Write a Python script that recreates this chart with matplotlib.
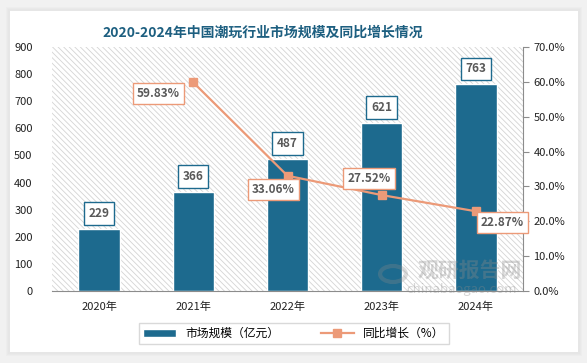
import matplotlib
matplotlib.use("Agg")
import matplotlib.pyplot as plt
from matplotlib.patches import Rectangle
from matplotlib.lines import Line2D
import numpy as np

plt.rcParams['font.family'] = ['Noto Sans CJK SC', 'DejaVu Sans']
plt.rcParams['hatch.linewidth'] = 0.6

years = ["2020年", "2021年", "2022年", "2023年", "2024年"]
market_size = [229, 366, 487, 621, 763]
growth_years = [1, 2, 3, 4]
growth_rate = [59.83, 33.06, 27.52, 22.87]

bar_color = "#1d6a8e"
line_color = "#ec9a78"
text_color = "#595959"

fig = plt.figure(figsize=(5.87, 3.63), dpi=100, facecolor="#f1f1f1")

# card with a soft shadow
for i, a in enumerate([0.05, 0.05, 0.05]):
    fig.patches.append(Rectangle((8 / 587 - i * 0.002, 9 / 363 - i * 0.003),
                                 572 / 587 + i * 0.004, 345 / 363 + i * 0.006,
                                 transform=fig.transFigure, facecolor="#b0b0b0",
                                 alpha=a, lw=0, zorder=-3))
fig.patches.append(Rectangle((10 / 587, 11 / 363), 568 / 587, 341 / 363,
                             transform=fig.transFigure, facecolor="white",
                             lw=0, zorder=-2))

ax = fig.add_axes([52 / 587, 72 / 363, 471 / 587, 244 / 363])
ax.set_facecolor("none")
ax.add_patch(Rectangle((0, 0), 1, 1, transform=ax.transAxes, facecolor="white",
                       edgecolor="#d4d4d4", hatch="\\\\\\\\\\\\", lw=0, zorder=0))

x = np.arange(len(years))
bars = ax.bar(x, market_size, width=0.44, color=bar_color, edgecolor="white",
              linewidth=1, zorder=2, label="市场规模（亿元）")
ax.set_xlim(-0.5, 4.5)
ax.set_ylim(0, 900)
ax.set_yticks(range(0, 901, 100))
ax.set_xticks(x)
ax.set_xticklabels(years)
ax.tick_params(axis="both", length=0, labelsize=8, colors="#222222")
ax.tick_params(axis="x", pad=8)
ax.tick_params(axis="y", pad=14)
for s in ["top", "left", "right"]:
    ax.spines[s].set_visible(False)
ax.spines["bottom"].set_color("#8c8c8c")

for xi, v in zip(x, market_size):
    ax.annotate(str(v), (xi, v), xytext=(0, 11), textcoords="offset points",
                ha="center", va="center", fontsize=8.5, fontweight="bold",
                color=text_color, zorder=6,
                bbox=dict(boxstyle="square,pad=0.4", fc="white", ec=bar_color, lw=1))

ax2 = ax.twinx()
ax2.set_ylim(0, 70)
ax2.set_yticks(range(0, 71, 10))
ax2.set_yticklabels([f"{t:.1f}%" for t in range(0, 71, 10)])
ax2.tick_params(axis="y", length=4, labelsize=8, colors="#222222", color="#8c8c8c")
for s in ["top", "left", "bottom"]:
    ax2.spines[s].set_visible(False)
ax2.spines["right"].set_color("#8c8c8c")
ln, = ax2.plot(growth_years, growth_rate, color=line_color, lw=1.6, marker="s",
               markersize=5.5, zorder=4, label="同比增长（%）")

offsets = [(-25, -8), (-10, -10), (-9, 12), (19, -8)]
for xi, v, off in zip(growth_years, growth_rate, offsets):
    ax2.annotate(f"{v:.2f}%", (xi, v), xytext=off, textcoords="offset points",
                 ha="center", va="center", fontsize=8.5, fontweight="bold",
                 color=text_color, zorder=6,
                 bbox=dict(boxstyle="square,pad=0.35", fc="white", ec=line_color, lw=1))

# watermark
fig.text(470 / 587, 1 - 270 / 363, "观研报告网", fontsize=15, fontweight="bold",
         color="#8a8a8a", alpha=0.35, ha="center", va="center")
fig.text(462 / 587, 1 - 290 / 363, "chinabaogao.com", fontsize=9.5,
         color="#8a8a8a", alpha=0.35, ha="center", va="center")
fig.patches.append(plt.Circle((393 / 587, 1 - 274 / 363), 0.022,
                              transform=fig.transFigure, fill=False,
                              ec="#8a8a8a", lw=3, alpha=0.3))

fig.text(263 / 587, 1 - 33 / 363, "2020-2024年中国潮玩行业市场规模及同比增长情况",
         fontsize=10, fontweight="bold", color="#1d5f80", ha="center", va="center")

handles = [bars, Line2D([0], [0], color=line_color, lw=1.6, marker="s", markersize=5.5)]
leg = fig.legend(handles, ["市场规模（亿元）", "同比增长（%）"], loc="center",
                 bbox_to_anchor=(294 / 587, 1 - 333.5 / 363), ncol=2, fontsize=8.5,
                 frameon=True, fancybox=False, edgecolor="#d0d0d0",
                 handlelength=2.8, columnspacing=3.5, borderpad=0.35)
leg.get_frame().set_linewidth(1)

fig.savefig("out.png", dpi=100, facecolor=fig.get_facecolor())
